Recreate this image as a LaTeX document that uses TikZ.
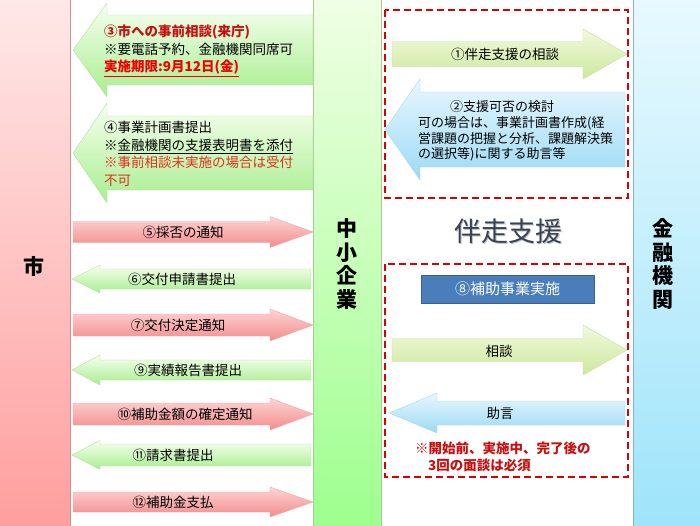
\documentclass[tikz,border=0pt]{standalone}
\usepackage{xcolor}
\usepackage{fontspec}
\setmainfont{Noto Sans CJK JP}
\usetikzlibrary{positioning}
\definecolor{citytop}{RGB}{255,232,232}
\definecolor{citybot}{RGB}{255,158,158}
\definecolor{cityline}{RGB}{208,144,144}
\definecolor{firmtop}{RGB}{240,255,228}
\definecolor{firmbot}{RGB}{158,255,142}
\definecolor{firmline}{RGB}{168,200,152}
\definecolor{banktop}{RGB}{232,249,255}
\definecolor{bankbot}{RGB}{158,228,250}
\definecolor{bankline}{RGB}{127,184,204}
\definecolor{pinktop}{RGB}{255,212,212}
\definecolor{pinkbot}{RGB}{242,140,140}
\definecolor{pinkline}{RGB}{236,168,168}
\definecolor{greentop}{RGB}{246,255,238}
\definecolor{greenbot}{RGB}{168,238,144}
\definecolor{greenline}{RGB}{184,220,160}
\definecolor{limetop}{RGB}{242,249,220}
\definecolor{limebot}{RGB}{204,232,158}
\definecolor{limeline}{RGB}{200,220,168}
\definecolor{bluetop}{RGB}{232,247,255}
\definecolor{bluebot}{RGB}{156,218,244}
\definecolor{blueline}{RGB}{168,214,236}
\definecolor{darkred}{RGB}{200,16,16}
\definecolor{alertred}{RGB}{240,0,0}
\definecolor{notered}{RGB}{226,48,32}
\definecolor{headgray}{RGB}{54,66,84}
\definecolor{implfill}{RGB}{74,126,187}
\definecolor{implline}{RGB}{56,96,146}
\tikzset{%
  colcity/.style={draw=cityline,top color=citytop,bottom color=citybot},
  colfirm/.style={draw=firmline,top color=firmtop,bottom color=firmbot},
  colbank/.style={draw=bankline,top color=banktop,bottom color=bankbot},
  pinkarrow/.style={draw=pinkline,top color=pinktop,bottom color=pinkbot},
  greenarrow/.style={draw=greenline,top color=greentop,bottom color=greenbot},
  limearrow/.style={draw=limeline,top color=limetop,bottom color=limebot},
  bluearrow/.style={draw=blueline,top color=bluetop,bottom color=bluebot},
  redframe/.style={draw=red!85!black,line width=2.5pt,dash pattern=on 7pt off 4pt},
  collabel/.style={inner sep=0pt,align=center,font=\bfseries\fontsize{21}{23.5}\selectfont},
  arrowtext/.style={inner sep=0pt},
  blocktext/.style={inner sep=0pt,align=left,anchor=west},
  implbox/.style={rectangle,draw=implline,fill=implfill,text=white,minimum width=173pt,minimum height=28pt,font=\fontsize{15}{18}\selectfont}
}
% block arrow pointing right: style, x start, x head, x tip, y, half shaft, half head
\newcommand\rblock[7]{%
  \path[#1] (#2,#5-#6) -- (#3,#5-#6) -- (#3,#5-#7) -- (#4,#5) -- (#3,#5+#7)
    -- (#3,#5+#6) -- (#2,#5+#6) -- cycle;}
% block arrow pointing left: style, x tip, x head, x end, y, half shaft, half head
\newcommand\lblock[7]{%
  \path[#1] (#2,#5) -- (#3,#5-#7) -- (#3,#5-#6) -- (#4,#5-#6) -- (#4,#5+#6)
    -- (#3,#5+#6) -- (#3,#5+#7) -- cycle;}
\begin{document}
\begin{tikzpicture}[x=1pt,y=-1pt,font=\fontsize{13.5}{17.5}\selectfont]
  \useasboundingbox (0,0) rectangle (700,525);
  % columns
  \path[colcity] (-2,-2) rectangle (70,527);
  \path[colfirm] (313,-2) rectangle (381,527);
  \path[colbank] (633,-2) rectangle (702,527);
  \node[collabel] (city) at (34,266) {市};
  \node[collabel] (firm) at (347,264) {中\\小\\企\\業};
  \node[collabel] (bank) at (663,264) {金\\融\\機\\関};

  % city <-> firm
  \lblock{greenarrow}{73}{107}{313}{50}{35}{47}
  \lblock{greenarrow}{73}{107}{313}{153}{37}{50}
  \rblock{pinkarrow}{73}{270}{313}{232}{10.5}{15.5}
  \lblock{greenarrow}{72}{100}{311}{279}{10}{14}
  \rblock{pinkarrow}{73}{270}{313}{325}{11}{16}
  \lblock{greenarrow}{72}{100}{311}{370}{10}{15}
  \rblock{pinkarrow}{73}{270}{313}{414}{11}{16}
  \lblock{greenarrow}{72}{100}{311}{455}{11}{14.5}
  \rblock{pinkarrow}{73}{270}{313}{502}{10}{15}

  \node[blocktext] (t3) at (104,51) {\textcolor{darkred}{\bfseries ③市への事前相談(来庁)}\\
    ※要電話予約、金融機関同席可\\
    \textcolor{alertred}{\bfseries\underline{実施期限:9月12日(金)}}};
  \node[blocktext] (t4) at (104,154) {④事業計画書提出\\
    ※\underline{金融機関の支援表明書を添付}\\
    \textcolor{notered}{※事前相談未実施の場合は受付}\\
    \textcolor{notered}{不可}};
  \node[arrowtext] (t5) at (183,232) {⑤採否の通知};
  \node[arrowtext] (t6) at (182,279) {⑥交付申請書提出};
  \node[arrowtext] (t7) at (178,325) {⑦交付決定通知};
  \node[arrowtext] (t9) at (188,370) {⑨実績報告書提出};
  \node[arrowtext] (t10) at (185,414) {⑩補助金額の確定通知};
  \node[arrowtext] (t11) at (173,455) {⑪請求書提出};
  \node[arrowtext] (t12) at (173,502) {⑫補助金支払};

  % firm <-> bank
  \path[redframe] (385,10) rectangle (628,198);
  \path[redframe] (385,264) rectangle (628,477);
  \rblock{limearrow}{392}{583}{627}{54}{12.5}{25}
  \lblock{bluearrow}{385}{420}{625}{129.5}{37.5}{50.5}
  \rblock{limearrow}{392}{583}{627}{350}{11.5}{25}
  \lblock{bluearrow}{389}{437}{625}{413}{12}{20}

  \node[arrowtext] (t1) at (505,54) {①伴走支援の相談};
  \node[blocktext,font=\fontsize{13}{15.8}\selectfont] (t2) at (418,131)
    {\hspace*{32pt}②支援可否の検討\\可の場合は、事業計画書作成(経\\
    営課題の把握と分析、課題解決策\\の選択等)に関する助言等};
  \node[text=black!25,font=\fontsize{27}{30}\selectfont] (headshadow) at (509.5,232.5) {伴走支援};
  \node[text=headgray,font=\fontsize{27}{30}\selectfont] (head) at (508,231) {伴走支援};
  \node[implbox] (impl) at (507.5,289) {⑧補助事業実施};
  \node[arrowtext] (consult) at (499,351) {相談};
  \node[arrowtext] (advice) at (500,413) {助言};
  \node[blocktext,text=darkred,font=\bfseries\fontsize{13.5}{17}\selectfont] (note) at (415,457)
    {※開始前、実施中、完了後の\\\hspace*{13pt}3回の面談は必須};
\end{tikzpicture}
\end{document}
